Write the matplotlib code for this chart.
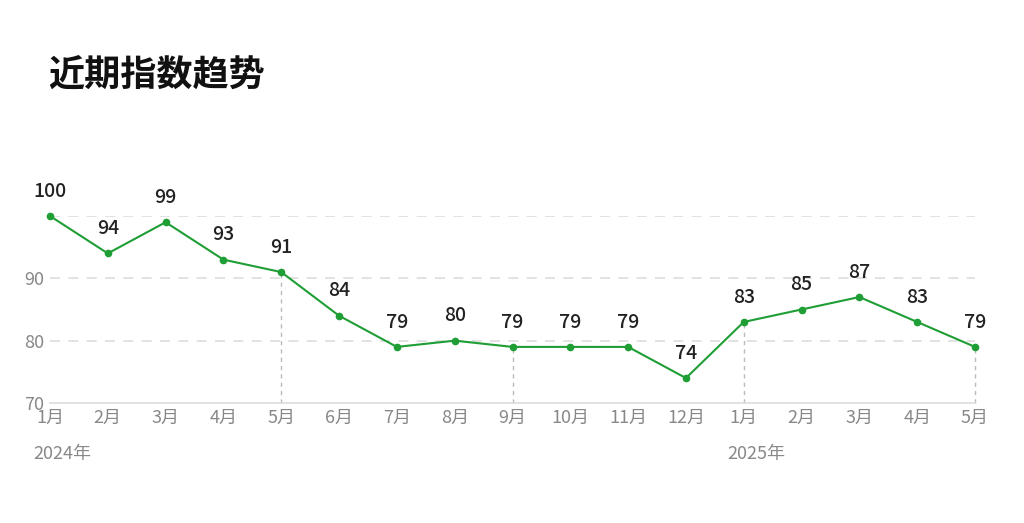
import matplotlib
matplotlib.use("Agg")
import matplotlib.pyplot as plt
from matplotlib import font_manager as fm

cjk = None
for f in fm.findSystemFonts():
    n = f.lower()
    if "notosanscjk" in n.replace("-", "").replace("_", "") or "notosanscjk" in n.replace(" ", ""):
        try:
            fm.fontManager.addfont(f)
        except Exception:
            pass
names = [f.name for f in fm.fontManager.ttflist if "CJK" in f.name]
cjk = names[0] if names else "DejaVu Sans"
for pref in ["Noto Sans CJK SC", "Noto Sans CJK JP"]:
    if pref in names:
        cjk = pref
        break
plt.rcParams["font.family"] = [cjk, "DejaVu Sans"]

months = ["1月","2月","3月","4月","5月","6月","7月","8月","9月","10月","11月","12月","1月","2月","3月","4月","5月"]
values = [100,94,99,93,91,84,79,80,79,79,79,74,83,85,87,83,79]
year_labels = {0: "2024年", 12: "2025年"}
yticks = [70, 80, 90]
vlines_at = [4, 8, 12, 16]

fig = plt.figure(figsize=(10.24, 5.23), dpi=100)
ax = fig.add_axes([50/1024, (523-403)/523, 925/1024, 187/523])
x = list(range(len(values)))
ax.set_xlim(0, 16)
ax.set_ylim(70, 100)

for g in [80, 90, 100]:
    ax.axhline(g, color="#dddddd", lw=1.2, ls=(0, (6, 5)), zorder=0)
for i in vlines_at:
    ax.plot([i, i], [70, values[i]], color="#bbbbbb", lw=1, ls=(0, (3, 3)), zorder=1, clip_on=False)

green = "#1f9e35"
ax.plot(x, values, color=green, lw=1.5, marker="o", ms=4.5, zorder=3, clip_on=False)
for xi, v in zip(x, values):
    ax.annotate(str(v), (xi, v), xytext=(0, 11), textcoords="offset points",
                ha="center", va="bottom", fontsize=14, fontweight="medium",
                color="#222222", annotation_clip=False)

for s in ["top", "right", "left"]:
    ax.spines[s].set_visible(False)
ax.spines["bottom"].set_color("#dddddd")
ax.spines["bottom"].set_linewidth(1.2)

ax.set_yticks(yticks)
ax.set_yticklabels([str(t) for t in yticks], color="#888888", fontsize=13)
ax.tick_params(axis="y", length=0, pad=4)
ax.set_xticks(x)
ax.set_xticklabels(months, color="#888888", fontsize=13)
ax.tick_params(axis="x", length=0, pad=4)

for i, t in year_labels.items():
    ax.annotate(t, (i, 70), xytext=(-12, -30), textcoords="offset points",
                ha="left", va="top", fontsize=13, color="#888888", annotation_clip=False)

fig.text(48/1024, 1 - 75/523, "近期指数趋势", fontsize=26, fontweight="bold",
         color="#111111", va="center", ha="left")

fig.savefig("out.png", dpi=100)
